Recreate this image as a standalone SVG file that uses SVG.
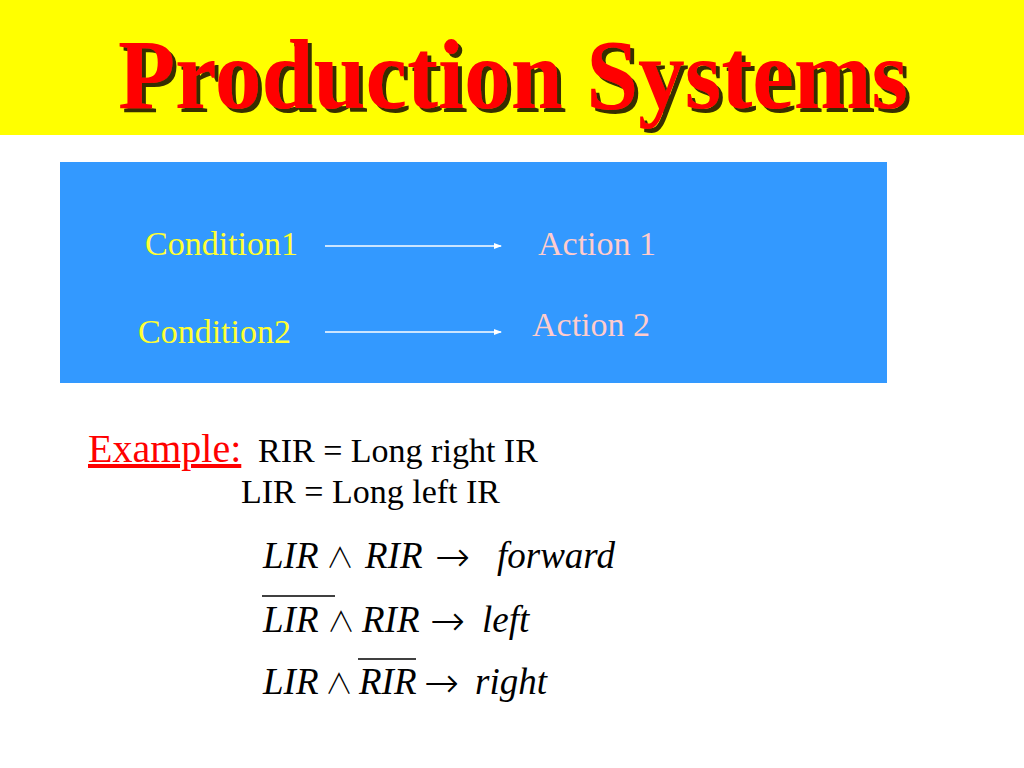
<svg xmlns="http://www.w3.org/2000/svg" width="1024" height="768" viewBox="0 0 1024 768">
<defs>
<marker id="ah" markerWidth="8" markerHeight="6" refX="7" refY="3" orient="auto" markerUnits="userSpaceOnUse">
<path d="M0,0 L8,3 L0,6 z" fill="#ffffff"/>
</marker>
<filter id="sh" x="-5%" y="-20%" width="110%" height="150%">
<feDropShadow dx="4" dy="4" stdDeviation="0.6" flood-color="#2a2000" flood-opacity="0.95"/>
</filter>
</defs>
<style>
.t{font-family:"Liberation Serif","Times New Roman",serif}
.title{font-size:100px;font-weight:bold;fill:#ff0000}
.cond{font-size:34px;fill:#ffff33}
.act{font-size:34px;fill:#ffcccc}
.blk{font-size:34px;fill:#000000}
.m{font-size:37px;font-style:italic;fill:#000000}
.op{font-family:"Noto Sans CJK JP","DejaVu Sans",sans-serif;font-size:28px;font-weight:300;fill:#000000}
.ar{font-family:"DejaVu Sans",sans-serif;font-size:42px;font-weight:200;fill:#000000}
.conn{stroke:#ffffff;stroke-width:1.3;fill:none}
.bar{stroke:#000000;stroke-width:1.6}
</style>
<rect x="0" y="0" width="1024" height="768" fill="#ffffff"/>
<g id="header">
<rect x="0" y="0" width="1024" height="135" fill="#ffff00"/>
<text class="t title" x="118" y="108" textLength="790" lengthAdjust="spacingAndGlyphs" filter="url(#sh)">Production Systems</text>
</g>
<g id="panel">
<rect x="60" y="162" width="827" height="221" fill="#3399ff"/>
</g>
<g id="condition1"><text class="t cond" x="145" y="255">Condition1</text></g>
<g id="action1"><text class="t act" x="538" y="255">Action 1</text></g>
<g id="condition2"><text class="t cond" x="138" y="343">Condition2</text></g>
<g id="action2"><text class="t act" x="532" y="336">Action 2</text></g>
<g id="connectors">
<line class="conn" x1="325" y1="246" x2="501" y2="246" marker-end="url(#ah)"/>
<line class="conn" x1="325" y1="332" x2="501" y2="332" marker-end="url(#ah)"/>
</g>
<g id="example">
<text class="t" x="88" y="462" font-size="40" fill="#ff0000" text-decoration="underline">Example:</text>
<text class="t blk" x="258" y="462">RIR = Long right IR</text>
<text class="t blk" x="241" y="503">LIR = Long left IR</text>
</g>
<g id="rule1">
<text class="t m" x="263" y="568">LIR</text>
<text class="op" x="326" y="568">∧</text>
<text class="t m" x="365" y="568">RIR</text>
<text class="ar" x="435" y="571">→</text>
<text class="t m" x="497" y="568">forward</text>
</g>
<g id="rule2">
<line class="bar" x1="262" y1="596" x2="335" y2="596"/>
<text class="t m" x="263" y="632">LIR</text>
<text class="op" x="327" y="632">∧</text>
<text class="t m" x="362" y="632">RIR</text>
<text class="ar" x="430" y="635">→</text>
<text class="t m" x="482" y="632">left</text>
</g>
<g id="rule3">
<line class="bar" x1="358" y1="659" x2="416" y2="659"/>
<text class="t m" x="263" y="694">LIR</text>
<text class="op" x="325" y="694">∧</text>
<text class="t m" x="359" y="694">RIR</text>
<text class="ar" x="424" y="697">→</text>
<text class="t m" x="475" y="694">right</text>
</g>
</svg>
